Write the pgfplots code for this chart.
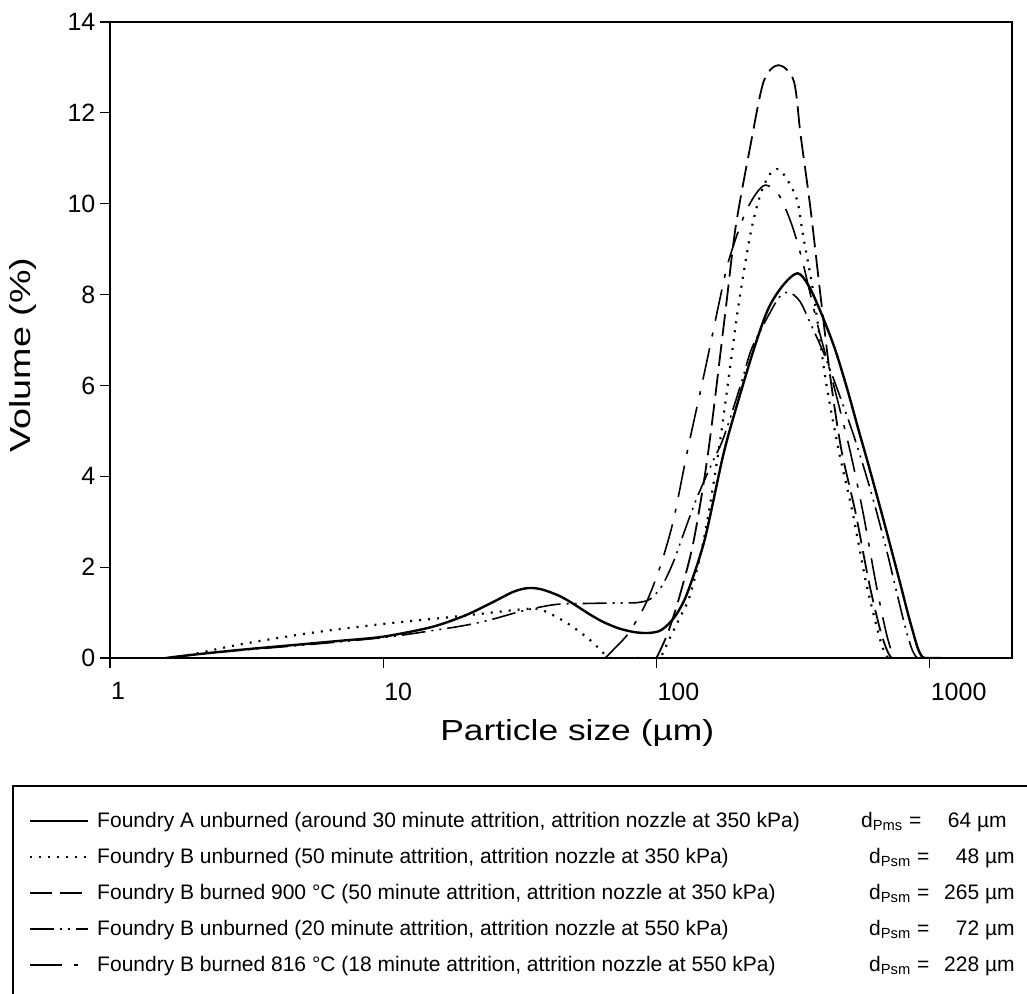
\documentclass[border=0pt]{standalone}
\usepackage{fontspec}
\setmainfont{Liberation Sans}
\usepackage{pgfplots}
\pgfplotsset{compat=1.18}

\pgfplotsset{
  lgd/.style={legend image code/.code={\draw[##1] (0pt,0pt) -- (29pt,0pt);}},
}
% legend row: description, then the d value in its own column
\newcommand{\row}[4]{\hspace{2pt}\makebox[#1][l]{#2}d\textsubscript{#3} = \makebox[22pt][r]{#4} µm\hspace*{30pt}}

\begin{document}
\begin{tikzpicture}
\useasboundingbox (-55pt,-168pt) rectangle (458.5pt,329pt);
\begin{axis}[
  at={(0,0)}, anchor=south west,
  scale only axis,
  width=451pt, height=318pt,
  xmode=log, xmin=1, xmax=2000,
  ymin=0, ymax=14,
  xtick={1,10,100,1000}, xticklabels={1,10,100,1000},
  ytick={0,2,...,14},
  xminorticks=false,
  tick align=outside,
  xtick pos=left, ytick pos=left,
  major tick length=4.8pt,
  tick style={black, line width=0.6pt},
  axis line style={black, line width=0.8pt},
  /pgf/number format/assume math mode=true,
  tick label style={font=\fontsize{12.5}{14}\selectfont},
  xticklabel style={anchor=north west, xshift=-3pt, yshift=-4pt},
  yticklabel style={xshift=1pt},
  xlabel={\scalebox{1.22}[1]{Particle size (µm)}},
  ylabel={\scalebox{1.3}[1]{Volume (\%)}},
  label style={font=\fontsize{14.5}{16}\selectfont},
  xlabel style={at={(axis description cs:0.518,-0.118)}, anchor=center},
  ylabel style={at={(axis description cs:-0.096,0.476)}, anchor=center},
  lgd,
  legend cell align=left,
  legend style={at={(axis description cs:-0.1086,-0.1997)}, anchor=north west,
    draw=black, line width=0.8pt, font=\fontsize{10.5}{12.5}\selectfont,
    row sep=4.9pt, inner xsep=8pt, inner ysep=11pt},
]
% Foundry A unburned, 30 min, 350 kPa
\addplot[black, line width=1.2pt, smooth] coordinates {
  (1.6,0) (2,0.07) (3,0.18) (5,0.3) (7,0.38) (10,0.47) (15,0.68) (20,0.94)
  (25,1.22) (30,1.46) (34,1.54) (38,1.51) (44,1.37) (50,1.18) (57,0.96)
  (64,0.79) (73,0.65) (83,0.57) (93,0.55) (103,0.6) (112,0.78) (120,1.02)
  (130,1.45) (150,2.6) (176,4.5) (200,5.7) (230,6.9) (257,7.7) (290,8.2)
  (328,8.47) (360,8.2) (400,7.6) (450,6.8) (500,5.9) (550,5.0) (600,4.2)
  (673,3.1) (730,2.3) (783,1.6) (830,1.0) (866,0.6) (900,0.25) (930,0.06)
  (960,0) (1100,0)
};
\addlegendentry{\row{382pt}{Foundry A unburned (around 30 minute attrition, attrition nozzle at 350 kPa)}{Pms}{64}}
% Foundry B unburned, 50 min, 350 kPa
\addplot[black, line width=1.1pt, dash pattern=on 1pt off 3.5pt, smooth] coordinates {
  (1.66,0) (2,0.08) (3,0.3) (5.4,0.55) (10,0.75) (17.6,0.9) (25,1.0)
  (32,1.07) (37,1.08) (42.6,0.92) (49,0.7) (57,0.4) (63,0.15) (68,0)
  (85,0) (102,0) (111,0.4) (122,0.9) (133,1.4) (150,2.7) (169,4.58)
  (185,6.3) (200,7.8) (221,9.35) (240,10.2) (260,10.65) (280,10.76)
  (303,10.5) (328,10.05) (344,9.3) (376,8.0) (416,6.12) (464,4.58)
  (522,3.2) (583,1.7) (645,0.6) (680,0.15) (705,0)
};
\addlegendentry{\row{386pt}{Foundry B unburned (50 minute attrition, attrition nozzle at 350 kPa)}{Psm}{48}}
% Foundry B burned 900 C, 50 min, 350 kPa
\addplot[black, line width=0.9pt, dash pattern=on 11pt off 4pt, smooth] coordinates {
  (100,0) (110,0.55) (122,1.4) (137,2.6) (155,4.58) (179,7.66) (195,9.5)
  (221,11.3) (247,12.7) (280,13.05) (318,12.7) (337,11.5) (366,9.9)
  (398,8.0) (434,6.12) (475,4.58) (535,3.2) (600,1.65) (660,0.6)
  (700,0.15) (725,0)
};
\addlegendentry{\row{386pt}{Foundry B burned 900 °C (50 minute attrition, attrition nozzle at 350 kPa)}{Psm}{265}}
% Foundry B unburned, 20 min, 550 kPa
\addplot[black, line width=0.8pt, dash pattern=on 12pt off 3pt on 1pt off 3pt on 1pt off 3pt, smooth] coordinates {
  (1.7,0) (2,0.07) (3,0.17) (5,0.28) (10,0.45) (15,0.6) (20,0.72) (25,0.85)
  (33,1.05) (43,1.18) (55,1.2) (70,1.21) (85,1.22) (95,1.3) (105,1.6)
  (115,2.1) (125,2.7) (140,3.5) (160,4.3) (176,4.85) (203,6.0) (221,6.75)
  (240,7.2) (260,7.6) (282,7.95) (305,8.05) (335,7.85) (370,7.3) (410,6.7)
  (460,5.9) (520,5.0) (580,4.1) (640,3.2) (700,2.3) (760,1.4) (820,0.6)
  (860,0.2) (890,0.03) (910,0)
};
\addlegendentry{\row{386pt}{Foundry B unburned (20 minute attrition, attrition nozzle at 550 kPa)}{Psm}{72}}
% Foundry B burned 816 C, 18 min, 550 kPa
\addplot[black, line width=0.8pt, dash pattern=on 16pt off 6pt on 2pt off 6pt, smooth] coordinates {
  (65,0) (70,0.2) (78,0.5) (86,0.9) (93,1.3) (103,2.0) (115,3.0) (130,4.58)
  (150,6.3) (172,8.0) (184,8.76) (208,9.7) (230,10.2) (251,10.41) (280,10.2)
  (310,9.6) (340,8.8) (390,7.3) (440,6.12) (510,4.58) (570,3.2) (635,1.65)
  (690,0.6) (725,0.15) (750,0)
};
\addlegendentry{\row{386pt}{Foundry B burned 816 °C (18 minute attrition, attrition nozzle at 550 kPa)}{Psm}{228}}
\end{axis}
\end{tikzpicture}
\end{document}
